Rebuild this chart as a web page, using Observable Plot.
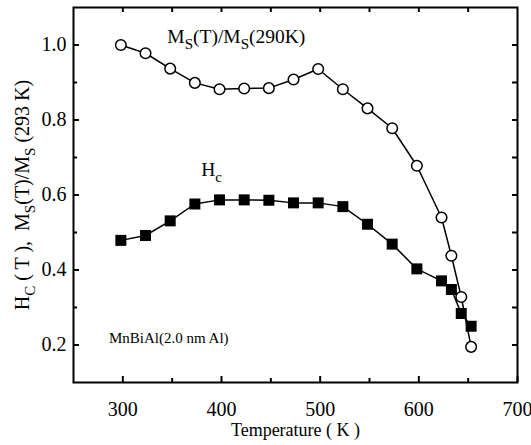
<!DOCTYPE html>
<html>
<head>
<meta charset="utf-8">
<script src="https://cdn.jsdelivr.net/npm/d3@7"></script>
<script src="https://cdn.jsdelivr.net/npm/@observablehq/plot@0.6"></script>
<style>
  html, body { margin: 0; padding: 0; background: #fff; }
  #chart svg { display: block; }
  #chart svg, #chart svg text, #chart svg tspan { font-family: "Liberation Serif", "Times New Roman", serif !important; }
</style>
</head>
<body>
<div id="chart"></div>
<script>
// ---- data ----
const temperatures = [298, 323, 348, 373, 398, 423, 448, 473, 498, 523, 548, 573, 598, 623, 633, 643, 653];
const msRatio = [1.0, 0.978, 0.937, 0.899, 0.882, 0.884, 0.885, 0.908, 0.936, 0.882, 0.831, 0.778, 0.678, 0.54, 0.438, 0.328, 0.195];
const hcValues = [0.479, 0.492, 0.531, 0.576, 0.587, 0.587, 0.586, 0.579, 0.579, 0.569, 0.522, 0.469, 0.403, 0.371, 0.348, 0.284, 0.25];
const xTickLabels = [300, 400, 500, 600, 700];
const xMinorTicks = [350, 450, 550, 650];
const yTickLabels = [0.2, 0.4, 0.6, 0.8, 1.0];
const yMinorTicks = [0.3, 0.5, 0.7, 0.9];
const annotations = [
  {x: 415, y: 1.006, text: "M_{S}(T)/M_{S}(290K)", size: 19.5},
  {x: 390, y: 0.651, text: "H_{c}", size: 19.5},
  {x: 286, y: 0.217, text: "MnBiAl(2.0 nm Al)", size: 15}
];
const xLabel = "Temperature ( K )";
const yLabel = "H_{C} ( T ),  M_{S}(T)/M_{S} (293 K)";

const msData = temperatures.map((t, i) => ({t, v: msRatio[i]}));
const hcData = temperatures.map((t, i) => ({t, v: hcValues[i]}));

const W = 531, H = 445;
const mL = 73, mR = 14, mT = 7, mB = 63;
const fw = W - mL - mR, fh = H - mT - mB;
const font = "Liberation Serif";

const plot = Plot.plot({
  width: W,
  height: H,
  marginLeft: mL,
  marginRight: mR,
  marginTop: mT,
  marginBottom: mB,
  style: {fontFamily: font, fontSize: "20px", color: "#000", background: "#fff"},
  x: {domain: [250, 700], ticks: xTickLabels, tickSize: 0, tickPadding: 19, label: null},
  y: {domain: [0.1, 1.1], ticks: yTickLabels, tickSize: 0, tickPadding: 7, label: null, tickFormat: d3.format(".1f")},
  marks: [
    // ticks (inward)
    Plot.ruleX(xTickLabels, {stroke: "#000", strokeWidth: 2, insetTop: fh - 6}),
    Plot.ruleX(xMinorTicks, {stroke: "#000", strokeWidth: 2, insetTop: fh - 4}),
    Plot.ruleX(xTickLabels.concat(xMinorTicks).filter(d => d < 700), {stroke: "#000", strokeWidth: 2, insetBottom: fh - 5}),
    Plot.ruleY(yTickLabels, {stroke: "#000", strokeWidth: 2, insetRight: fw - 6}),
    Plot.ruleY(yMinorTicks, {stroke: "#000", strokeWidth: 2, insetRight: fw - 4}),
    Plot.ruleY(yTickLabels.concat(yMinorTicks), {stroke: "#000", strokeWidth: 2, insetLeft: fw - 5}),
    Plot.frame({stroke: "#000", strokeWidth: 2}),
    // series
    Plot.line(msData, {x: "t", y: "v", stroke: "#000", strokeWidth: 1.5}),
    Plot.line(hcData, {x: "t", y: "v", stroke: "#000", strokeWidth: 1.5}),
    Plot.dot(hcData, {x: "t", y: "v", symbol: "square", r: 6.2, fill: "#000", stroke: "none"}),
    Plot.dot(msData, {x: "t", y: "v", r: 5.3, fill: "#fff", stroke: "#000", strokeWidth: 1.5}),
    // annotations
    Plot.text(annotations.filter(d => d.size > 16), {x: "x", y: "y", text: "text", textAnchor: "middle", lineAnchor: "bottom", fontSize: 19.5, fontFamily: font, fill: "#000"}),
    Plot.text(annotations.filter(d => d.size <= 16), {x: "x", y: "y", text: "text", textAnchor: "start", lineAnchor: "middle", fontSize: 15, fontFamily: font, fill: "#000"}),
    // axis titles
    Plot.text([xLabel], {frameAnchor: "bottom", dy: 53, text: d => d, textAnchor: "middle", fontSize: 18, fontFamily: font, fill: "#000"}),
    Plot.text([yLabel], {frameAnchor: "left", dx: -51, rotate: -90, text: d => d, textAnchor: "middle", fontSize: 20, fontFamily: font, fill: "#000"})
  ]
});

// convert "_{..}" markup into subscript tspans
d3.select(plot).selectAll("text").each(function() {
  const el = this;
  const s = el.textContent;
  if (!s.includes("_{")) return;
  const fs = 20;
  const shift = Math.round(fs * 0.3);
  el.textContent = "";
  const parts = s.split(/_\{([^}]*)\}/);
  let down = false;
  parts.forEach((p, i) => {
    if (p === "") return;
    const ts = document.createElementNS("http://www.w3.org/2000/svg", "tspan");
    ts.textContent = p;
    if (i % 2 === 1) {
      ts.setAttribute("font-size", Math.round(fs * 0.75));
      if (!down) { ts.setAttribute("dy", shift); down = true; }
    } else if (down) {
      ts.setAttribute("dy", -shift); down = false;
    }
    el.appendChild(ts);
  });
});

document.getElementById("chart").appendChild(plot);
</script>
</body>
</html>
